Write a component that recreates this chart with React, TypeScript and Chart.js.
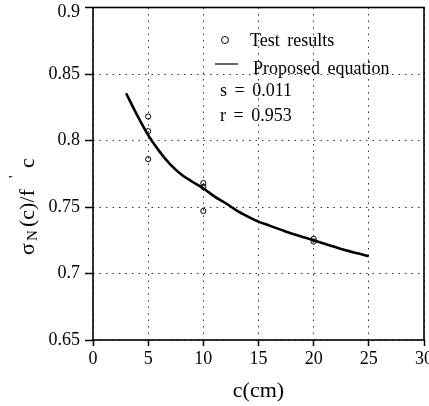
import React, { useEffect, useRef } from "react";
import { Chart, registerables } from "chart.js";

Chart.register(...registerables);

// ---- data ----
const testC = [5, 5, 5, 10, 10, 10, 20, 20];
const testRatio = [0.818, 0.807, 0.786, 0.768, 0.765, 0.747, 0.726, 0.724];

const curveC = [3, 4, 5, 6, 7, 8, 9, 10, 11, 12, 13, 14, 15, 16, 17, 18, 19, 20, 22.5, 25];
const curveRatio = [
  0.8355, 0.819, 0.804, 0.792, 0.782, 0.7745, 0.769, 0.764, 0.758, 0.753, 0.7475, 0.743,
  0.739, 0.736, 0.733, 0.730, 0.7275, 0.725, 0.7185, 0.713,
];

const xTickValues = [0, 5, 10, 15, 20, 25, 30];
const yTickLabels = ["0.65", "0.7", "0.75", "0.8", "0.85", "0.9"];

const legendItems = ["Test results", "Proposed equation"];
const statLines = ["s = 0.011", "r = 0.953"];
const xTitle = "c(cm)";

const FONT = "'Liberation Serif', 'Times New Roman', serif";

const overlayPlugin = {
  id: "overlay",
  afterDraw(chart: any) {
    const { ctx, chartArea } = chart;
    const { left, top, right, bottom } = chartArea;
    ctx.save();
    // frame
    ctx.strokeStyle = "#000";
    ctx.lineWidth = 1.6;
    ctx.setLineDash([]);
    ctx.strokeRect(left, top, right - left, bottom - top);

    // legend
    ctx.fillStyle = "#000";
    ctx.font = `18px ${FONT}`;
    ctx.textAlign = "left";
    ctx.textBaseline = "alphabetic";
    try { (ctx as any).wordSpacing = "3px"; } catch (e) {}
    ctx.lineWidth = 1;
    ctx.beginPath();
    ctx.arc(225, 40, 3.5, 0, Math.PI * 2);
    ctx.stroke();
    ctx.fillText(legendItems[0], 250, 46);
    ctx.lineWidth = 1.2;
    ctx.beginPath();
    ctx.moveTo(215, 64);
    ctx.lineTo(238, 64);
    ctx.stroke();
    ctx.fillText(legendItems[1], 253, 74);
    ctx.fillText(statLines[0], 220, 96);
    ctx.fillText(statLines[1], 220, 121);

    // x title
    ctx.font = `22px ${FONT}`;
    ctx.textAlign = "center";
    ctx.fillText(xTitle, (left + right) / 2, 397);

    // y title (rotated) σN(c)/f'c
    ctx.translate(34, 255);
    ctx.rotate(-Math.PI / 2);
    ctx.textAlign = "left";
    ctx.font = `22px ${FONT}`;
    ctx.fillText("σ", 0, 0);
    ctx.font = `15px ${FONT}`;
    ctx.fillText("N", 14, 3);
    ctx.font = `22px ${FONT}`;
    ctx.fillText("(c)/f", 28, 0);
    ctx.font = `15px ${FONT}`;
    ctx.fillText("'", 77, -15);
    ctx.font = `22px ${FONT}`;
    ctx.fillText("c", 87, 0);
    ctx.restore();
  },
};

export default function App() {
  const ref = useRef<HTMLCanvasElement | null>(null);
  useEffect(() => {
    if (!ref.current) return;
    const chart = new Chart(ref.current, {
      type: "scatter",
      data: {
        datasets: [
          {
            label: legendItems[1],
            data: curveC.map((c, i) => ({ x: c, y: curveRatio[i] })),
            showLine: true,
            borderColor: "#000",
            backgroundColor: "#000",
            borderWidth: 2.6,
            pointRadius: 0,
            cubicInterpolationMode: "monotone",
          } as any,
          {
            label: legendItems[0],
            data: testC.map((c, i) => ({ x: c, y: testRatio[i] })),
            showLine: false,
            borderColor: "#000",
            backgroundColor: "rgba(0,0,0,0)",
            borderWidth: 1,
            pointRadius: 2.6,
            pointStyle: "circle",
          },
        ],
      },
      options: {
        animation: false,
        responsive: false,
        devicePixelRatio: 1,
        layout: { padding: { top: 7.5, right: 4, left: 0, bottom: 0 } },
        plugins: { legend: { display: false }, tooltip: { enabled: false } },
        scales: {
          x: {
            type: "linear",
            min: 0,
            max: 30,
            afterBuildTicks: (s: any) => {
              s.ticks = xTickValues.map((v) => ({ value: v }));
            },
            afterFit: (s: any) => {
              s.height = 66;
              s.paddingLeft = 0;
              s.paddingRight = 0;
            },
            ticks: {
              color: "#000",
              font: { family: FONT, size: 18 },
              padding: 2,
              maxRotation: 0,
              autoSkip: false,
              callback: (v: any) => String(v),
            },
            grid: {
              color: "#333",
              lineWidth: 1,
              tickLength: 6,
              tickColor: "#000",
              tickWidth: 1.5,
              tickBorderDash: [],
            } as any,
            border: { display: false, dash: [1.5, 5] } as any,
          },
          y: {
            type: "linear",
            min: 0.65,
            max: 0.9,
            afterBuildTicks: (s: any) => {
              s.ticks = yTickLabels.map((t) => ({ value: parseFloat(t) }));
            },
            afterFit: (s: any) => {
              s.width = 93;
              s.paddingTop = 0;
              s.paddingBottom = 0;
            },
            ticks: {
              color: "#000",
              font: (c: any) =>
                c.tick && Math.abs(c.tick.value - 0.9) < 1e-6
                  ? { family: FONT, size: 18, lineHeight: 0.56 }
                  : { family: FONT, size: 18 },
              padding: 5,
              autoSkip: false,
              callback: (v: any) => {
                const f = yTickLabels.find((t) => Math.abs(parseFloat(t) - Number(v)) < 1e-6);
                if (f === yTickLabels[yTickLabels.length - 1]) return ["", f];
                return f ?? "";
              },
            } as any,
            grid: {
              color: "#333",
              lineWidth: 1,
              tickLength: 8,
              tickColor: "#000",
              tickWidth: 1.5,
              tickBorderDash: [],
            } as any,
            border: { display: false, dash: [1.5, 5] } as any,
          },
        },
      },
      plugins: [overlayPlugin],
    });
    return () => chart.destroy();
  }, []);
  return (
    <div style={{ position: "fixed", left: 0, top: 0, width: 429, height: 406, background: "#fff" }}>
      <canvas ref={ref} width={429} height={406} style={{ display: "block" }} />
    </div>
  );
}
